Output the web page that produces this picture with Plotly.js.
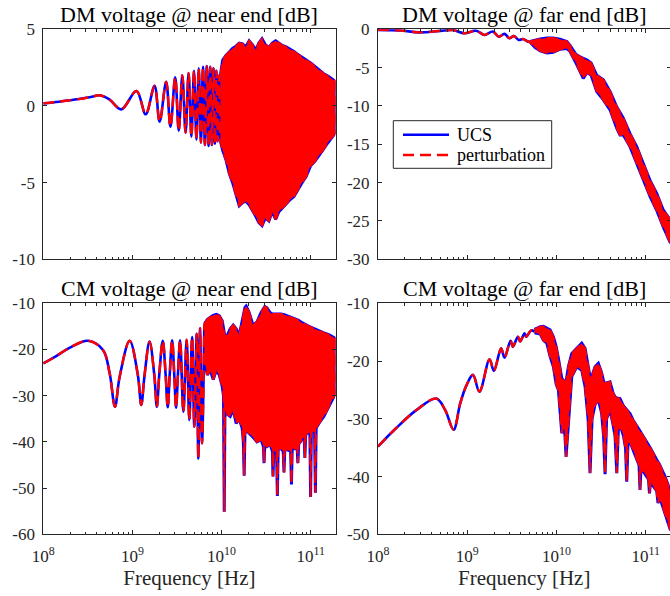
<!DOCTYPE html>
<html><head><meta charset="utf-8">
<script src="https://cdn.plot.ly/plotly-3.0.1.min.js"></script>
<style>html,body{margin:0;padding:0;overflow:hidden;background:#fff;width:670px;height:596px}</style>
</head><body><div id="chart" style="width:674px;height:596px"></div>
<script>
// ---------- DM voltage @ near end [dB] ----------
const dmNearFreq = [1e8, 1.5e8, 2.5e8, 3.5e8, 4.3e8, 5.5e8, 7.5e8, 1.11e9, 1.41e9, 1.77e9, 2.02e9, 2.39e9, 2.67e9, 3.02e9, 3.31e9, 3.63e9, 3.95e9, 4.27e9, 4.59e9, 4.91e9, 5.23e9, 5.55e9, 5.87e9, 6.19e9, 6.51e9, 6.83e9, 7.15e9, 7.47e9, 7.79e9, 8.11e9, 8.43e9, 8.75e9, 9.07e9, 9.39e9, 9.71e9];
const dmNearVal = [0.17, 0.28, 0.45, 0.6, 0.7, 0.43, -0.22, 0.98, -0.54, 1.31, -1.02, 1.58, -1.35, 1.87, -1.61, 2.0, -1.75, 2.15, -2.0, 2.3, -2.2, 2.45, -2.4, 2.55, -2.55, 2.6, -2.6, 2.55, -2.55, 2.45, -2.45, 2.3, -2.3, 2.0, -2.3];
const dmNearBandFreq = [9.71e9, 1.03e10, 1.12e10, 1.22e10, 1.33e10, 1.45e10, 1.58e10, 1.72e10, 1.87e10, 2.04e10, 2.22e10, 2.42e10, 2.62e10, 2.85e10, 3.1e10, 3.4e10, 3.7e10, 4.05e10, 4.4e10, 4.8e10, 5.3e10, 5.9e10, 6.5e10, 7.2e10, 8.0e10, 8.9e10, 1.0e11, 1.12e11, 1.25e11, 1.4e11, 1.56e11, 1.75e11, 1.9e11];
const dmNearBandUpper = [2.0, 3.0, 3.3, 3.55, 3.75, 3.9, 4.1, 4.05, 3.85, 4.25, 4.0, 3.65, 4.1, 4.38, 4.0, 3.8, 4.1, 4.25, 4.1, 3.95, 3.85, 3.7, 3.55, 3.35, 3.2, 3.0, 2.8, 2.55, 2.35, 2.1, 1.95, 1.75, 1.6];
const dmNearBandLower = [-2.3, -2.9, -3.5, -4.4, -5.0, -5.7, -6.5, -6.3, -6.2, -6.45, -6.8, -7.2, -7.6, -7.8, -7.3, -7.5, -6.9, -7.4, -6.9, -6.7, -6.4, -6.1, -5.9, -5.5, -5.0, -4.6, -3.9, -3.6, -3.2, -2.8, -2.4, -2.0, -1.75];

// ---------- DM voltage @ far end [dB] ----------
const dmFarFreq = [1e8, 1.78e8, 2.9e8, 4.99e8, 6.92e8, 9.33e8, 1.26e9, 1.56e9, 1.94e9, 2.26e9, 2.62e9, 2.98e9, 3.34e9, 3.79e9, 4.21e9, 4.70e9, 5.08e9];
const dmFarVal = [-0.08, -0.15, -0.4, -0.2, -0.1, -0.52, -0.18, -0.74, -0.3, -0.96, -0.6, -1.17, -0.87, -1.4, -1.26, -1.55, -1.65];
const dmFarBandFreq = [5.08e9, 5.78e9, 6.58e9, 7.82e9, 9.18e9, 1.10e10, 1.31e10, 1.42e10, 1.66e10, 1.84e10, 2.0e10, 2.21e10, 2.45e10, 2.83e10, 3.36e10, 3.99e10, 4.74e10, 5.16e10, 5.62e10, 6.68e10, 7.94e10, 9.42e10, 1.12e11, 1.33e11, 1.58e11, 1.9e11];
const dmFarBandUpper = [-1.6, -1.4, -1.25, -1.15, -1.15, -1.3, -1.6, -2.1, -3.3, -3.6, -3.8, -4.0, -4.4, -6.0, -6.6, -8.1, -10.1, -10.8, -11.6, -13.6, -15.3, -17.5, -19.7, -21.4, -23.6, -24.9];
const dmFarBandLower = [-1.7, -2.4, -2.8, -3.1, -3.0, -2.6, -2.5, -2.9, -4.4, -5.4, -6.4, -5.6, -6.0, -8.1, -9.2, -10.5, -12.9, -13.8, -13.8, -15.3, -17.5, -19.7, -21.8, -23.6, -25.8, -27.9];

// ---------- CM voltage @ near end [dB] ----------
const cmNearFreq = [1e8, 1.35e8, 1.99e8, 3.18e8, 4.68e8, 5.56e8, 6.37e8, 7.19e8, 9.31e8, 1.15e9, 1.256e9, 1.37e9, 1.556e9, 1.76e9, 1.88e9, 2.0e9, 2.19e9, 2.36e9, 2.49e9, 2.62e9, 2.79e9, 2.95e9, 3.09e9, 3.24e9, 3.43e9, 3.73e9, 4.06e9, 4.35e9, 4.67e9, 4.95e9, 5.26e9, 5.49e9, 5.74e9, 6.04e9, 6.41e9];
const cmNearVal = [-23.0, -21.6, -19.6, -18.1, -20.1, -25.2, -32.4, -25.9, -18.1, -25.5, -32.0, -25.5, -18.3, -25.5, -32.4, -25.5, -18.1, -25.5, -32.5, -25.5, -18.0, -25.5, -32.6, -25.5, -18.0, -33.5, -17.9, -35.3, -17.3, -36.7, -16.6, -43.6, -15.4, -40.3, -14.5];
const cmNearBandFreq = [6.41e9, 6.92e9, 7.48e9, 8.07e9, 8.73e9, 9.42e9, 1.018e10, 1.052e10, 1.072e10, 1.094e10, 1.158e10, 1.25e10, 1.352e10, 1.46e10, 1.577e10, 1.703e10, 1.757e10, 1.794e10, 1.832e10, 1.89e10, 2.04e10, 2.26e10, 2.50e10, 2.78e10, 2.95e10, 3.0e10, 3.06e10, 3.24e10, 3.5e10, 3.72e10, 3.78e10, 3.86e10, 4.14e10, 4.23e10, 4.32e10, 4.65e10, 4.92e10, 5.02e10, 5.13e10, 5.56e10, 5.96e10, 6.09e10, 6.21e10, 6.66e10, 7.04e10, 7.19e10, 7.34e10, 7.97e10, 8.46e10, 8.61e10, 8.79e10, 9.30e10, 9.80e10, 9.98e10, 1.018e11, 1.072e11, 1.106e11, 1.13e11, 1.153e11, 1.236e11, 1.405e11, 1.597e11, 1.9e11];
const cmNearBandUpper = [-14.5, -13.5, -13.0, -12.6, -12.4, -12.7, -13.8, -15.5, -16.5, -17.3, -17.0, -15.5, -14.7, -15.5, -17.0, -13.5, -12.0, -11.3, -10.9, -10.6, -12.0, -14.8, -14.0, -12.0, -11.0, -10.8, -10.7, -11.0, -12.0, -12.3, -12.3, -12.3, -12.2, -12.2, -12.2, -12.3, -12.4, -12.4, -12.5, -12.8, -13.0, -13.1, -13.1, -13.4, -13.6, -13.6, -13.7, -14.2, -14.4, -14.5, -14.6, -14.9, -15.1, -15.2, -15.3, -15.5, -15.6, -15.7, -15.8, -16.0, -16.4, -16.8, -17.6];
const cmNearBandLower = [-22, -25.5, -24.5, -26.5, -24.5, -25.5, -28, -30, -55.1, -31, -34, -34.5, -33, -36, -35, -37, -40, -47.3, -38, -37.5, -38, -39, -40, -39.5, -41, -44.6, -40.5, -41, -40.5, -42, -47.5, -42, -42, -51.7, -41.5, -41.5, -42, -46.6, -41.5, -41.8, -42, -49.2, -41.5, -41.5, -41, -44.6, -40.5, -39.5, -39, -43.5, -38.5, -38, -38, -51.9, -38, -37.5, -37.5, -51.0, -37, -36, -34.5, -32.5, -29.5];

// ---------- CM voltage @ far end [dB] ----------
const cmFarFreq = [1e8, 1.6e8, 2.69e8, 4.5e8, 5.67e8, 7.03e8, 8.36e8, 9.75e8, 1.16e9, 1.37e9, 1.78e9, 1.99e9, 2.40e9, 2.62e9, 3.06e9, 3.25e9, 3.70e9, 3.92e9, 4.39e9, 4.58e9, 5.21e9, 5.68e9];
const cmFarVal = [-34.8, -31.6, -28.5, -26.5, -28.5, -31.9, -27.3, -24.3, -22.4, -25.3, -19.7, -21.7, -17.8, -19.4, -16.5, -17.5, -15.8, -16.6, -15.2, -15.8, -14.7, -14.9];
const cmFarBandFreq = [5.68e9, 6.58e9, 7.15e9, 7.80e9, 8.49e9, 9.25e9, 9.93e9, 1.052e10, 1.148e10, 1.218e10, 1.283e10, 1.361e10, 1.486e10, 1.69e10, 1.922e10, 2.094e10, 2.264e10, 2.38e10, 2.51e10, 2.71e10, 2.95e10, 3.21e10, 3.38e10, 3.51e10, 3.65e10, 3.99e10, 4.31e10, 4.54e10, 4.75e10, 4.94e10, 5.16e10, 5.65e10, 5.95e10, 6.14e10, 6.35e10, 6.68e10, 7.22e10, 7.94e10, 8.43e10, 8.65e10, 8.88e10, 1.028e11, 1.077e11, 1.104e11, 1.134e11, 1.331e11, 1.377e11, 1.431e11, 1.651e11, 1.9e11];
const cmFarBandUpper = [-14.5, -14.05, -14.0, -14.3, -14.6, -15.8, -17.5, -19.5, -23.0, -23.5, -23.6, -21.0, -18.7, -17.8, -16.9, -17.8, -20.5, -22.7, -22.5, -21.0, -20.4, -22.0, -23.5, -23.9, -23.8, -23.6, -25.5, -26.2, -26.4, -26.4, -26.5, -27.8, -28.2, -28.5, -28.8, -29.1, -30.2, -31.1, -31.8, -32.1, -32.4, -34.0, -34.5, -34.8, -35.1, -37.1, -37.5, -37.9, -40.0, -42.6];
const cmFarBandLower = [-15.1, -15.3, -16.4, -16.9, -19.2, -21.0, -24.0, -25.0, -32.5, -30.0, -36.6, -30.2, -22.7, -21.0, -21.6, -24.4, -30.0, -39.4, -30.0, -27.5, -26.7, -29.0, -33.0, -39.6, -30.0, -28.5, -31.0, -33.0, -39.4, -32.0, -31.0, -33.0, -35.0, -40.9, -34.0, -34.0, -35.5, -37.0, -38.0, -42.3, -38.5, -40.0, -40.5, -42.9, -41.0, -42.5, -44.6, -43.5, -46.5, -49.3];

// ---------- axes / labels ----------
const panelTitles = ['DM voltage @ near end [dB]', 'DM voltage @ far end [dB]', 'CM voltage @ near end [dB]', 'CM voltage @ far end [dB]'];
const seriesNames = ['UCS', 'perturbation'];
const xTickVals = [1e8, 1e9, 1e10, 1e11];
const xTickText = ['10<sup>8</sup>', '10<sup>9</sup>', '10<sup>10</sup>', '10<sup>11</sup>'];
const xMinorTicks = [2e8, 3e8, 4e8, 5e8, 6e8, 7e8, 8e8, 9e8, 2e9, 3e9, 4e9, 5e9, 6e9, 7e9, 8e9, 9e9, 2e10, 3e10, 4e10, 5e10, 6e10, 7e10, 8e10, 9e10];
const xTitle = 'Frequency [Hz]';
const y1Ticks = [5, 0, -5, -10], y1Text = ['5', '0', '-5', '-10'];
const y2Ticks = [0, -5, -10, -15, -20, -25, -30], y2Text = ['0', '-5', '-10', '-15', '-20', '-25', '-30'];
const y3Ticks = [-10, -20, -30, -40, -50, -60], y3Text = ['-10', '-20', '-30', '-40', '-50', '-60'];
const y4Ticks = [-10, -20, -30, -40, -50], y4Text = ['-10', '-20', '-30', '-40', '-50'];

const FONT = "'Liberation Serif', 'Times New Roman', serif";
const AX = '#262626';
const BLUE = '#0000ff', RED = '#ff0000';
const DASH = '11px,6px';
const W = 674, H = 596;

const panels = [
  {f: dmNearFreq, v: dmNearVal, bf: dmNearBandFreq, bu: dmNearBandUpper, bl: dmNearBandLower, xa: 'x', ya: 'y'},
  {f: dmFarFreq, v: dmFarVal, bf: dmFarBandFreq, bu: dmFarBandUpper, bl: dmFarBandLower, xa: 'x2', ya: 'y2'},
  {f: cmNearFreq, v: cmNearVal, bf: cmNearBandFreq, bu: cmNearBandUpper, bl: cmNearBandLower, xa: 'x3', ya: 'y3'},
  {f: cmFarFreq, v: cmFarVal, bf: cmFarBandFreq, bu: cmFarBandUpper, bl: cmFarBandLower, xa: 'x4', ya: 'y4'}
];

const data = [];
panels.forEach((p, i) => {
  const polyX = p.bf.concat(p.bf.slice().reverse());
  const polyY = p.bu.concat(p.bl.slice().reverse());
  // UCS (blue solid)
  data.push({x: p.f, y: p.v, xaxis: p.xa, yaxis: p.ya, type: 'scatter', mode: 'lines',
    name: seriesNames[0], legendgroup: 'ucs', showlegend: false,
    line: {color: BLUE, width: 2.6, shape: 'spline', smoothing: 1}, hoverinfo: 'skip'});
  data.push({x: polyX, y: polyY, xaxis: p.xa, yaxis: p.ya, type: 'scatter', mode: 'lines',
    name: seriesNames[0], legendgroup: 'ucs', showlegend: false, fill: 'toself', fillcolor: BLUE,
    line: {color: BLUE, width: 3}, hoverinfo: 'skip'});
  // perturbation (red dashed)
  data.push({x: p.f, y: p.v, xaxis: p.xa, yaxis: p.ya, type: 'scatter', mode: 'lines',
    name: seriesNames[1], legendgroup: 'pert', showlegend: false,
    line: {color: RED, width: 2.4, dash: DASH, shape: 'spline', smoothing: 1}, hoverinfo: 'skip'});
  data.push({x: polyX, y: polyY, xaxis: p.xa, yaxis: p.ya, type: 'scatter', mode: 'lines',
    name: seriesNames[1], legendgroup: 'pert', showlegend: false, fill: 'toself', fillcolor: RED,
    line: {color: RED, width: 2, dash: DASH}, hoverinfo: 'skip'});
});

const xL = [43.3 / W, 335.5 / W], xR = [378 / W, 670.5 / W];
const yT = [1 - 259.3 / H, 1 - 29.3 / H], yB = [1 - 534.3 / H, 1 - 303.3 / H];
const XR = [8, Math.log10(1.9e11)];

function xaxis(domain, anchor, labels) {
  const ax = {domain, anchor, type: 'log', range: XR, tickmode: 'array', tickvals: xTickVals, ticktext: xTickText,
    showticklabels: labels, ticks: 'inside', ticklen: 4, tickwidth: 1, tickcolor: AX, ticklabelstandoff: 6,
    minor: {tickmode: 'array', tickvals: xMinorTicks, ticks: 'inside', ticklen: 2.5, tickwidth: 1, tickcolor: AX},
    showline: true, linecolor: AX, linewidth: 1, mirror: 'ticks', showgrid: false, zeroline: false,
    tickfont: {family: FONT, size: 17, color: AX}};
  if (labels) ax.title = {text: xTitle, font: {family: FONT, size: 21, color: AX}, standoff: 5};
  return ax;
}
function yaxis(domain, anchor, range, vals, text) {
  return {domain, anchor, range, tickmode: 'array', tickvals: vals, ticktext: text,
    ticks: 'inside', ticklen: 4, tickwidth: 1, tickcolor: AX, ticklabelstandoff: 4,
    showline: true, linecolor: AX, linewidth: 1, mirror: 'ticks', showgrid: false, zeroline: false,
    tickfont: {family: FONT, size: 17, color: AX}};
}

const titleY = [1 - 14.5 / H, 1 - 14.5 / H, 1 - 288.5 / H, 1 - 288.5 / H];
const titleX = [(xL[0] + xL[1]) / 2, (xR[0] + xR[1]) / 2, (xL[0] + xL[1]) / 2, (xR[0] + xR[1]) / 2];
const annotations = panelTitles.map((t, i) => ({text: t, xref: 'paper', yref: 'paper', x: titleX[i], y: titleY[i],
  xanchor: 'center', yanchor: 'middle', showarrow: false, font: {family: FONT, size: 22, color: '#000'}}));

// legend (drawn in the DM far-end panel, MATLAB style)
const leg = {x0: 393.3, x1: 551.7, y0: 120.7, y1: 168.3, lx0: 403, lx1: 449, tx: 455, rows: [134.7, 155]};
const px = v => v / W, py = v => 1 - v / H;
const shapes = [
  {type: 'rect', xref: 'paper', yref: 'paper', x0: px(leg.x0), x1: px(leg.x1), y0: py(leg.y1), y1: py(leg.y0),
    line: {color: AX, width: 1}, fillcolor: '#fff', layer: 'above'},
  {type: 'line', xref: 'paper', yref: 'paper', x0: px(leg.lx0), x1: px(leg.lx1), y0: py(leg.rows[0]), y1: py(leg.rows[0]),
    line: {color: BLUE, width: 2.6}, layer: 'above'},
  {type: 'line', xref: 'paper', yref: 'paper', x0: px(leg.lx0), x1: px(leg.lx1), y0: py(leg.rows[1]), y1: py(leg.rows[1]),
    line: {color: RED, width: 2.6, dash: DASH}, layer: 'above'}
];
seriesNames.forEach((n, i) => annotations.push({text: n, xref: 'paper', yref: 'paper', x: px(leg.tx), y: py(leg.rows[i]),
  xanchor: 'left', yanchor: 'middle', showarrow: false, font: {family: FONT, size: 18, color: '#000'}}));

const layout = {
  width: W, height: H, margin: {l: 0, r: 0, t: 0, b: 0},
  paper_bgcolor: '#fff', plot_bgcolor: '#fff', hovermode: false, showlegend: false,
  xaxis: xaxis(xL, 'y', false), yaxis: yaxis(yT, 'x', [-10, 5], y1Ticks, y1Text),
  xaxis2: xaxis(xR, 'y2', false), yaxis2: yaxis(yT, 'x2', [-30, 0], y2Ticks, y2Text),
  xaxis3: xaxis(xL, 'y3', true), yaxis3: yaxis(yB, 'x3', [-60, -10], y3Ticks, y3Text),
  xaxis4: xaxis(xR, 'y4', true), yaxis4: yaxis(yB, 'x4', [-50, -10], y4Ticks, y4Text),
  annotations, shapes
};

Plotly.newPlot('chart', data, layout, {staticPlot: true, displayModeBar: false});
</script></body></html>
